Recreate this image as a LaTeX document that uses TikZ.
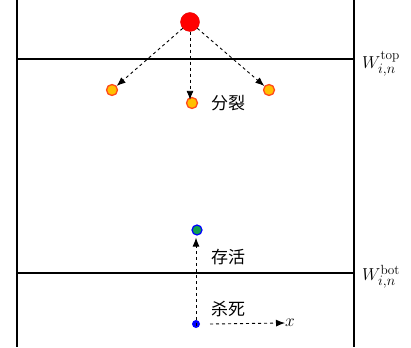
\documentclass[tikz,border=0pt]{standalone}
\usepackage{fontspec}
\newfontfamily\cjk{Noto Sans CJK SC}
\usetikzlibrary{arrows.meta}
\definecolor{orfill}{HTML}{FFC000}
\definecolor{orline}{HTML}{FF4A1A}
\definecolor{grfill}{HTML}{10A050}
\tikzset{
  wall/.style={line width=2pt,black},
  flow/.style={dashed,line width=0.9pt,-{Latex[length=9pt,width=7pt]}},
  child/.style={circle,fill=orfill,draw=orline,line width=1.3pt,minimum size=11pt,inner sep=0pt},
  parent/.style={circle,fill=red,draw=red!90!black,minimum size=19pt,inner sep=0pt},
  cjklab/.style={font=\cjk\fontsize{17}{19}\selectfont,anchor=west,inner sep=0pt},
  wlab/.style={font=\fontsize{19}{21}\selectfont,anchor=west,inner sep=0pt}
}
\begin{document}
\begin{tikzpicture}[x=1pt,y=-1pt]
\useasboundingbox (0,0) rectangle (411,347);
% walls
\draw[wall] (17,0) -- (17,347);
\draw[wall] (354,0) -- (354,347);
\coordinate (tl) at (17,59); \coordinate (tr) at (354,59);
\coordinate (bl) at (17,273); \coordinate (br) at (354,273);
\draw[wall] (tl) -- (tr);
\draw[wall] (bl) -- (br);
\node[wlab] (wtop) at (362,64) {$W_{i,n}^{\mathrm{top}}$};
\node[wlab] (wbot) at (362,277) {$W_{i,n}^{\mathrm{bot}}$};
% division
\node[parent] (p) at (190,22) {};
\node[child] (c1) at (112,90) {};
\node[child] (c2) at (192,103) {};
\node[child] (c3) at (269,90) {};
\draw[flow] (p) -- (c1);
\draw[flow] (p.south) -- ([xshift=-2pt,yshift=-3pt]c2.north);
\draw[flow] (p) -- (c3);
\node[cjklab] (fl) at (211,103) {分裂};
% survival
\node[circle,fill=grfill,draw=blue,line width=1.2pt,minimum size=10pt,inner sep=0pt] (g) at (197,230) {};
\node[circle,fill=blue,minimum size=8pt,inner sep=0pt] (b) at (196,324) {};
\draw[flow] ([yshift=-6pt]b.north) -- ([xshift=-1pt,yshift=-2pt]g.south);
\coordinate (xs) at (210,324);
\node[inner sep=0pt,anchor=west,font=\fontsize{18}{20}\selectfont] (xl) at (285,323) {$x$};
\draw[flow] (xs) -- (xl.west);
\node[cjklab] (sh) at (211,257) {存活};
\node[cjklab] (ss) at (211,309) {杀死};
\end{tikzpicture}
\end{document}
